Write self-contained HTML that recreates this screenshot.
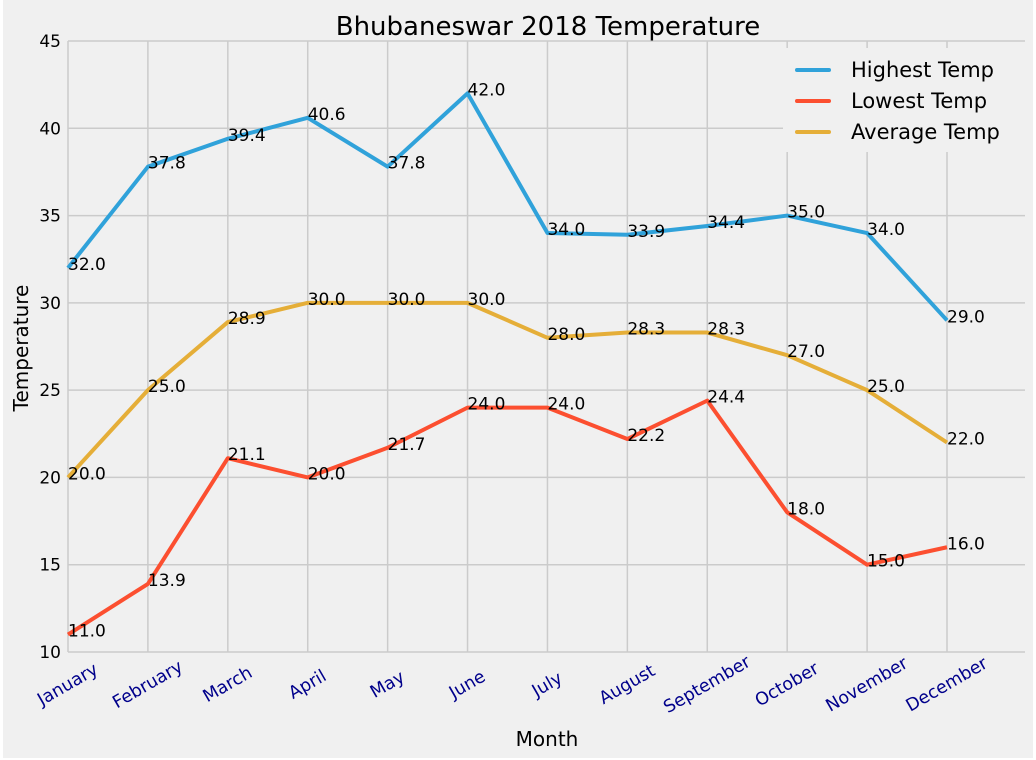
<!DOCTYPE html>
<html><head><meta charset="utf-8"><style>
body{margin:0;background:#fff;}
svg{display:block;font-family:"DejaVu Sans","Liberation Sans",sans-serif;}
</style></head><body>
<svg width="1036" height="760">
<rect x="3" y="0" width="1030" height="758" fill="#f0f0f0"/>
<g id="grid"></g>
<g id="lines"></g>
<g id="labels"></g>
<text x="548" y="35" font-size="26" text-anchor="middle" fill="#000">Bhubaneswar 2018 Temperature</text>
<text x="547" y="746" font-size="20" text-anchor="middle" fill="#000">Month</text>
<text transform="translate(28,348) rotate(-90)" font-size="20" text-anchor="middle" fill="#000">Temperature</text>
<g>
<rect x="783" y="48" width="242" height="104" fill="#f0f0f0"/>
<line x1="797" y1="70" x2="829" y2="70" stroke="#30a2da" stroke-width="4" stroke-linecap="round"/>
<text x="851" y="77" font-size="21">Highest Temp</text>
<line x1="797" y1="101" x2="829" y2="101" stroke="#fc4f30" stroke-width="4" stroke-linecap="round"/>
<text x="851" y="108" font-size="21">Lowest Temp</text>
<line x1="797" y1="132" x2="829" y2="132" stroke="#e5ae38" stroke-width="4" stroke-linecap="round"/>
<text x="851" y="139" font-size="21">Average Temp</text>
</g>
</svg>
<script>
const months=["January","February","March","April","May","June","July","August","September","October","November","December"];
const highest=[32.0,37.8,39.4,40.6,37.8,42.0,34.0,33.9,34.4,35.0,34.0,29.0];
const lowest=[11.0,13.9,21.1,20.0,21.7,24.0,24.0,22.2,24.4,18.0,15.0,16.0];
const average=[20.0,25.0,28.9,30.0,30.0,30.0,28.0,28.3,28.3,27.0,25.0,22.0];
const yTicks=[10,15,20,25,30,35,40,45];
const NS="http://www.w3.org/2000/svg";
const X0=68,DX=(947-68)/11,Y0=652,YMIN=10,YMAX=45,YTOP=41;
const xs=i=>X0+i*DX;
const ys=v=>Y0-(v-YMIN)*(Y0-YTOP)/(YMAX-YMIN);
function mk(tag,attrs,parent){const e=document.createElementNS(NS,tag);for(const k in attrs)e.setAttribute(k,attrs[k]);parent.appendChild(e);return e;}
const grid=document.getElementById('grid'),lines=document.getElementById('lines'),labels=document.getElementById('labels');
yTicks.forEach(t=>{
 const l=mk('line',{x1:X0,x2:1025,y1:ys(t),y2:ys(t),stroke:'#cbcbcb','stroke-width':1.5},grid);
 
 
 const tx=mk('text',{x:61,y:ys(t)+6,'font-size':17,'text-anchor':'end',fill:'#000'},grid);
 tx.textContent=t;
 
 
});
months.forEach((m,i)=>{
 const l=mk('line',{x1:xs(i),x2:xs(i),y1:YTOP,y2:Y0,stroke:'#cbcbcb','stroke-width':1.5},grid);
 
 
 const tx=mk('text',{transform:`translate(${xs(i)},685) rotate(-30)`,'font-size':17.5,'text-anchor':'middle','dominant-baseline':'central',fill:'#00008b'},grid);
 tx.textContent=m;
 
 
});
[[highest,'#30a2da','highest'],[lowest,'#fc4f30','lowest'],[average,'#e5ae38','average']].forEach(([d,c,n])=>{
 const p=mk('polyline',{points:d.map((v,i)=>xs(i)+','+ys(v)).join(' '),fill:'none',stroke:c,'stroke-width':4,'stroke-linejoin':'round'},lines);
 
 
 d.forEach((v,i)=>{
  const t=mk('text',{x:xs(i),y:ys(v)+2,'font-size':17,fill:'#000'},labels);
  t.textContent=v.toFixed(1);
  
  
 });
});
</script>
</body></html>
